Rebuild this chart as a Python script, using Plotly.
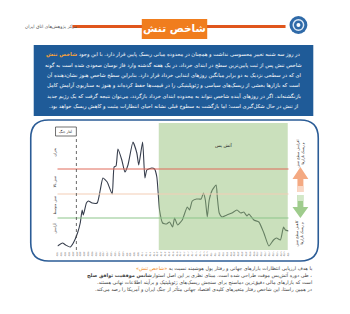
import plotly.graph_objects as go

# ---------------- data ----------------
# x = half-day index starting 21 Khordad 1404
half_day = [0.0, 1.3, 2.1, 3.3, 4.1, 5.2, 5.9, 6.4, 6.7, 7.5, 8.0, 9.0, 10.3, 11.1, 11.8,
            12.9, 14.2, 14.7, 15.2, 15.7, 16.7, 17.5, 18.3, 19.6, 20.6, 21.1, 22.1, 22.7,
            23.2, 24.5, 25.2, 25.8, 26.5, 27.3, 28.3, 29.1, 29.9, 30.4, 31.2, 32.4, 33.7,
            34.3, 35.0, 36.1, 37.3, 37.9, 38.4, 38.9, 39.4, 40.2, 41.2, 41.5, 42.0, 42.7,
            44.0, 45.3, 46.6, 47.6, 48.4, 49.2, 49.7, 51.0, 52.3, 53.6, 54.9, 56.1, 56.9,
            57.9, 58.7, 59.2, 60.0]
tension = [7, 10, 8, 6, 10, 20, 30, 43, 38, 50, 52, 50, 50, 63, 75,
           71, 59, 86, 87, 104, 93, 81, 88, 111, 100, 88, 111, 75,
           83, 85, 84, 76, 43, 30, 29, 31, 26, 35, 28, 33, 46,
           43, 52, 54, 54, 60, 53, 36, 53, 63, 68, 56, 40, 36,
           38, 40, 43, 40, 41, 37, 39, 33, 31, 20, 7, 13, 15,
           13, 26, 23, 22]
war_start = 4.9
ceasefire = 26.3
level_high = 84
level_mid = 59
level_low = 35

day_labels = ["۰۳/۲۱", "۰۳/۲۲", "۰۳/۲۳", "۰۳/۲۴", "۰۳/۲۵", "۰۳/۲۶", "۰۳/۲۷", "۰۳/۲۸",
              "۰۳/۲۹", "۰۳/۳۰", "۰۳/۳۱", "۰۴/۰۱", "۰۴/۰۲", "۰۴/۰۳", "۰۴/۰۴", "۰۴/۰۵",
              "۰۴/۰۶", "۰۴/۰۷", "۰۴/۰۸", "۰۴/۰۹", "۰۴/۱۰", "۰۴/۱۱", "۰۴/۱۲", "۰۴/۱۳",
              "۰۴/۱۴", "۰۴/۱۵", "۰۴/۱۶", "۰۴/۱۷", "۰۴/۱۸", "۰۴/۱۹", "۰۴/۲۰"]
tick_vals = list(range(61))
tick_labels = [day_labels[i // 2] for i in tick_vals]

zone_labels = ["بحران", "تنش بالا", "تنش متوسط", "آرامش"]

RLM = "\u200f"
# highlighted lead words are appended last: plotly lays styled pieces out left to right
intro_lines = [
    RLM + "در روز سه شنبه تغییر محسوسی نداشت و همچنان در محدوده میانی ریسک پایین قرار دارد. با این وجود " + RLM
    + "<span style='color:#f7a23b'><b>" + RLM + "شاخص تنش" + RLM + "</b></span>",
    "شاخص تنش پس از ثبت پایین‌ترین سطح در ابتدای خرداد، در یک هفته گذشته وارد فاز نوسان صعودی شده است به گونه",
    "ای که در سطحی نزدیک به دو برابر میانگین روزهای ابتدایی خرداد قرار دارد. بنابراین سطح شاخص هنوز نشان‌دهنده آن",
    "است که بازارها بخشی از ریسک‌های سیاسی و ژئوپلیتیکی را در قیمت‌ها حفظ کرده‌اند و هنوز به سناریوی آرامش کامل",
    "بازنگشته‌اند. اگر در روزهای آینده شاخص نتواند به محدوده ابتدای خرداد بازگردد، می‌توان نتیجه گرفت که یک رژیم جدید",
    "از تنش در حال شکل‌گیری است؛ اما بازگشت به سطوح قبلی نشانه احیای انتظارات مثبت و کاهش ریسک خواهد بود.",
]
note_lines = [
    RLM + "با هدف ارزیابی انتظارات بازارهای جهانی و رفتار پول هوشمند نسبت به " + RLM
    + "<span style='color:#f08a24'>" + RLM + "«شاخص تنش»" + RLM + "</span>",
    RLM + "، طی دوره آتش‌بس موقت طراحی شده است. مبنای نظری بر این اصل استوار" + RLM
    + "<b>" + RLM + "شانس موفقیت توافق صلح" + RLM + "</b>",
    "است که بازارهای مالی دقیق‌ترین دماسنج برای سنجش ریسک‌های ژئوپلیتیک و برآیند اطلاعات نهانی هستند.",
    "در همین راستا، این شاخص رفتار متغیرهای کلیدی اقتصاد جهانی متأثر از جنگ ایران و آمریکا را رصد می‌کند.",
]

# ---------------- layout helpers ----------------
W, H = 350, 314
FONT = "DejaVu Sans"


def X(px):
    return px / W


def Y(py):
    return 1 - py / H


def rtl(s):
    return s if s.startswith(RLM) else RLM + s + RLM


def rounded(x0, y0, x1, y1, r):
    rx, ry = r / W, r / H
    a, b, c, d = X(x0), Y(y0), X(x1), Y(y1)
    return (f"M {a+rx},{b} L {c-rx},{b} Q {c},{b} {c},{b-ry} L {c},{d+ry} "
            f"Q {c},{d} {c-rx},{d} L {a+rx},{d} Q {a},{d} {a},{d+ry} L {a},{b-ry} "
            f"Q {a},{b} {a+rx},{b} Z")


def poly(points):
    return "M " + " L ".join(f"{X(p[0])},{Y(p[1])}" for p in points) + " Z"


def text(px, py, t, size, color, xanchor="center", angle=0, xref="paper", xval=None):
    return dict(x=X(px) if xval is None else xval, y=Y(py), xref=xref, yref="paper", text=t,
                showarrow=False, xanchor=xanchor, yanchor="middle", textangle=angle,
                borderpad=0, font=dict(family=FONT, size=size, color=color))


fig = go.Figure()
fig.add_trace(go.Scatter(x=half_day, y=tension, mode="lines",
                         line=dict(color="#363d4c", width=1.1, shape="spline", smoothing=0.5),
                         hoverinfo="skip", showlegend=False))

shapes = []
# chart frame
shapes.append(dict(type="path", xref="paper", yref="paper", path=rounded(30, 120, 320, 261, 18),
                   line=dict(color="#2b5c96", width=1.6), fillcolor="rgba(0,0,0,0)", layer="below"))
# ceasefire region
shapes.append(dict(type="rect", xref="x", yref="paper", x0=ceasefire, x1=59.8, y0=Y(250), y1=Y(123),
                   fillcolor="rgba(150,193,122,0.5)", line=dict(width=0), layer="above"))
# level lines
for lv, col in [(level_high, "#e06a5a"), (level_mid, "#f3cdb5"), (level_low, "#8cc58a")]:
    shapes.append(dict(type="line", xref="paper", yref="y", x0=X(57), x1=X(290), y0=lv, y1=lv,
                       line=dict(color=col, width=1), layer="above"))
# war start dotted line
shapes.append(dict(type="line", xref="x", yref="paper", x0=war_start, x1=war_start, y0=Y(250), y1=Y(137),
                   line=dict(color="#444444", width=0.8, dash="dot")))
# legend box
shapes.append(dict(type="rect", xref="paper", yref="paper", x0=X(55), x1=X(76), y0=Y(136), y1=Y(127),
                   line=dict(color="#333333", width=0.7), fillcolor="white"))
# arrows
shapes.append(dict(type="path", xref="paper", yref="paper",
                   path=poly([(302, 167), (310, 179), (305, 179), (305, 192), (299, 192), (299, 179), (294, 179)]),
                   fillcolor="#f4a982", line=dict(width=0)))
shapes.append(dict(type="rect", xref="paper", yref="paper", x0=X(299), x1=X(305), y0=Y(192), y1=Y(186),
                   fillcolor="#f9d8c6", line=dict(width=0)))
shapes.append(dict(type="path", xref="paper", yref="paper",
                   path=poly([(299, 195), (305, 195), (305, 207), (310, 207), (302, 218), (294, 207), (299, 207)]),
                   fillcolor="#9fcc8d", line=dict(width=0)))
shapes.append(dict(type="rect", xref="paper", yref="paper", x0=X(299), x1=X(305), y0=Y(201), y1=Y(195),
                   fillcolor="#d3e8c8", line=dict(width=0)))
# intro box
shapes.append(dict(type="rect", xref="paper", yref="paper", x0=X(33), x1=X(315), y0=Y(116), y1=Y(45),
                   fillcolor="#1f5b98", line=dict(width=0)))
# header bar, title box, logo
shapes.append(dict(type="rect", xref="paper", yref="paper", x0=X(72), x1=X(287), y0=Y(28), y1=Y(25),
                   fillcolor="#e0561c", line=dict(width=0)))
shapes.append(dict(type="rect", xref="paper", yref="paper", x0=X(142), x1=X(208), y0=Y(39), y1=Y(19),
                   fillcolor="#f07d1e", line=dict(width=0)))
for r, col in [(9, "#2f6aa8"), (6, "#dce8f5"), (4.5, "#2f6aa8"), (2, "#ffffff")]:
    shapes.append(dict(type="circle", xref="paper", yref="paper", x0=X(300 - r), x1=X(300 + r),
                       y0=Y(25 + r), y1=Y(25 - r), fillcolor=col, line=dict(width=0)))

ann = []
ann.append(text(175, 29, "<b>شاخص تنش</b>", 10.5, "white"))
ann.append(text(51, 27, "مرکز پژوهش‌های اتاق ایران", 4.5, "#555555"))
for i, t in enumerate(intro_lines):
    ann.append(text(174, 55 + i * 10.3, rtl(t), 5.2, "white"))
for i, t in enumerate(note_lines):
    ann.append(text(315, 268 + i * 7.1, rtl(t), 4.9, "#444444", xanchor="right"))
ann.append(text(65.5, 131.5, "آغاز جنگ", 3.5, "#222222"))
ann.append(text(0, 145, "آتش بس", 4.5, "#222222", xref="x", xval=(ceasefire + 60) / 2))
for lbl, py in zip(zone_labels, [152, 182, 205, 228]):
    ann.append(text(54, py, lbl, 3.5, "#333333", angle=-90))
ann.append(text(302, 153, "افزایش سطح تنش<br>و ریسک بازارها", 3.5, "#333333", angle=-90))
ann.append(text(302, 233, "کاهش سطح تنش<br>و ریسک بازارها", 3.5, "#333333", angle=-90))

fig.update_layout(
    width=W, height=H, margin=dict(l=0, r=0, t=0, b=0),
    paper_bgcolor="white", plot_bgcolor="white", showlegend=False,
    shapes=shapes, annotations=ann,
    xaxis=dict(domain=[X(57), X(290)], range=[0, 60], tickvals=tick_vals, ticktext=tick_labels,
               tickangle=-90, tickfont=dict(family=FONT, size=2.3, color="#555555"),
               showgrid=False, zeroline=False, showline=False, ticks=""),
    yaxis=dict(domain=[Y(250), Y(123)], range=[3, 130], visible=False),
)
fig.write_html("out.html")
